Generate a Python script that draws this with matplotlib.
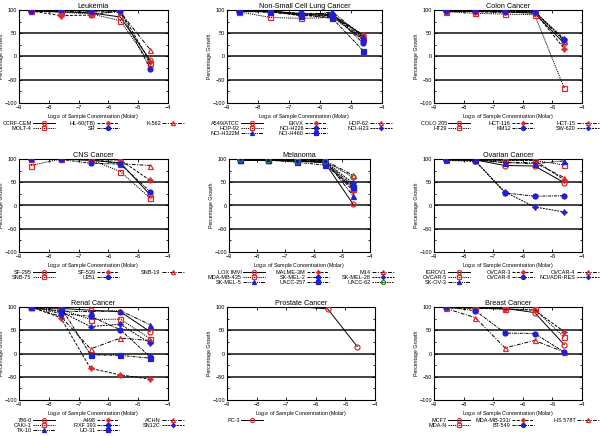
import matplotlib
matplotlib.use('Agg')
import matplotlib.pyplot as plt
from matplotlib.ticker import MultipleLocator

plt.rcParams['font.family'] = ['Liberation Sans', 'DejaVu Sans']
plt.rcParams['mathtext.fontset'] = 'custom'
plt.rcParams['mathtext.rm'] = 'Liberation Sans'

# log10 molar concentrations tested
conc = [-8.6, -7.6, -6.6, -5.6, -4.6]

leuk_names = ['CCRF-CEM', 'HL-60(TB)', 'K-562', 'MOLT-4', 'SR']
leuk_growth = [[98, 96, 94, 85, -8],
               [98, 88, 89, 99, -12],
               [98, 97, 96, 95, 15],
               [98, 95, 92, 77, -15],
               [98, 99, 98, 97, -26]]

nsclc_names = ['A549/ATCC', 'EKVX', 'HOP-62', 'HOP-92', 'NCI-H226', 'NCI-H23', 'NCI-H322M', 'NCI-H460']
nsclc_growth = [[98, 97, 92, 90, 45],
                [99, 96, 88, 86, 47],
                [97, 95, 90, 88, 40],
                [96, 84, 82, 84, 37],
                [98, 97, 93, 92, 28],
                [99, 98, 91, 87, 35],
                [100, 99, 87, 96, 42],
                [97, 96, 90, 82, 12]]

colon_names = ['COLO 205', 'HCT-116', 'HCT-15', 'HT29', 'KM12', 'SW-620']
colon_growth = [[98, 97, 96, 93, 28],
                [98, 96, 95, 95, 17],
                [97, 98, 97, 96, 33],
                [96, 93, 91, 90, -68],
                [99, 100, 98, 97, 35],
                [97, 98, 97, 96, 38]]

cns_names = ['SF-295', 'SF-539', 'SNB-19', 'SNB-75', 'U251']
cns_growth = [[100, 100, 97, 92, 23],
              [100, 100, 98, 98, 54],
              [100, 100, 99, 90, 86],
              [86, 100, 99, 73, 16],
              [100, 99, 91, 89, 30]]

mel_names = ['LOX IMVI', 'MALME-3M', 'M14', 'MDA-MB-435', 'SK-MEL-2', 'SK-MEL-28', 'SK-MEL-5', 'UACC-257', 'UACC-62']
mel_growth = [[97, 98, 96, 92, 3],
              [99, 97, 95, 93, 32],
              [98, 98, 97, 97, 65],
              [99, 97, 96, 94, 36],
              [98, 98, 97, 93, 43],
              [99, 98, 96, 95, 48],
              [98, 97, 96, 97, 21],
              [98, 98, 93, 87, 40],
              [99, 98, 96, 95, 61]]

ovar_names = ['IGROV1', 'OVCAR-3', 'OVCAR-4', 'OVCAR-5', 'OVCAR-8', 'NCI/ADR-RES', 'SK-OV-3']
ovar_growth = [[99, 98, 86, 85, 49],
               [99, 98, 97, 97, 55],
               [98, 98, 93, 92, 60],
               [99, 97, 97, 97, 87],
               [98, 96, 27, 20, 21],
               [97, 95, 29, -3, -14],
               [99, 98, 92, 90, 96]]

renal_names = ['786-0', 'A498', 'ACHN', 'CAKI-1', 'RXF 393', 'SN12C', 'TK-10', 'UO-31']
renal_growth = [[100, 97, 93, 90, 47],
                [100, 77, -32, -46, -55],
                [100, 80, 10, 33, 28],
                [100, 95, 73, 74, 32],
                [100, 86, 80, 51, -7],
                [100, 90, 58, 63, 22],
                [100, 91, 90, 92, 62],
                [100, 100, -3, -4, -10]]

prost_names = ['PC-3']
prost_growth = [[101, 101, 100.6, 96, 15]]

breast_names = ['MCF7', 'MDA-MB-231/', 'HS 578T', 'MDA-N', 'BT-549']
breast_growth = [[99, 98, 97, 88, 19],
                 [98, 97, 96, 93, 47],
                 [97, 77, 12, 28, 3],
                 [99, 98, 95, 95, 35],
                 [100, 92, 44, 43, 3]]

red = '#e3262b'
blue = '#1f1fd6'
green = '#1a8a1a'
# marker, colour, filled
mk = [('o', red, False), ((4, 1, 0), red, True), ('^', red, False), ('s', red, False),
      ('o', blue, True), ((4, 1, 0), blue, True), ('^', blue, True), ('s', blue, True),
      ('o', green, False)]
ls = ['-', (0, (3, 1.5)), (0, (4, 1.5, 1, 1.5)), (0, (1.2, 1)), (0, (3, 1, 1, 1)),
      (0, (2, 1)), (0, (4, 1, 1, 1, 1, 1)), (0, (3, 1, 1, 1)), (0, (1.5, 1))]

W, H = 600, 436
fig = plt.figure(figsize=(6, 4.36), dpi=100)

# title, names, values, (left, right, top, bottom) in pixels
panels = [
    ('Leukemia', leuk_names, leuk_growth, (19, 168, 10, 103)),
    ('Non-Small Cell Lung Cancer', nsclc_names, nsclc_growth, (227, 382, 10, 103)),
    ('Colon Cancer', colon_names, colon_growth, (434, 582, 10, 103)),
    ('CNS Cancer', cns_names, cns_growth, (19, 168, 159, 252)),
    ('Melanoma', mel_names, mel_growth, (229, 370, 159, 252)),
    ('Ovarian Cancer', ovar_names, ovar_growth, (434, 582, 159, 252)),
    ('Renal Cancer', renal_names, renal_growth, (19, 168, 307, 400)),
    ('Prostate Cancer', prost_names, prost_growth, (227, 375, 307, 400)),
    ('Breast Cancer', breast_names, breast_growth, (434, 582, 307, 400)),
]

for title, names, growth, (l, r, t, b) in panels:
    ax = fig.add_axes([l / W, 1 - b / H, (r - l) / W, (b - t) / H])
    for y in (50, 0, -50):
        ax.axhline(y, color='#333333', lw=1.3, zorder=1)
    handles = []
    for i, (name, vals) in enumerate(zip(names, growth)):
        m, c, filled = mk[i]
        # points above the plot range are not marked
        shown = [k for k, v in enumerate(vals) if v <= 100]
        h, = ax.plot(conc, vals, color='black', lw=0.7, ls=ls[i], marker=m,
                     markevery=shown,
                     markersize=4.2 if i in (1, 5) else 3.6,
                     markerfacecolor=c if filled else 'none',
                     markeredgecolor=c, markeredgewidth=0.9, label=name, zorder=3)
        handles.append(h)
    ax.set_xlim(-9, -4)
    ax.set_ylim(-100, 100)
    ax.set_yticks([-100, -50, 0, 50, 100])
    ax.yaxis.set_minor_locator(MultipleLocator(25))
    ax.tick_params(direction='in', top=True, right=True, labelsize=4, pad=1.5,
                   length=2.5, width=0.6)
    ax.tick_params(which='minor', direction='in', right=True, length=1.5, width=0.6)
    for sp in ax.spines.values():
        sp.set_linewidth(0.8)
    ax.set_title(title, fontsize=5.2, pad=1.5)
    ax.set_ylabel('Percentage Growth', fontsize=3.8)
    ax.yaxis.set_label_coords(-15.0 / (r - l), 0.5)
    ax.set_xlabel('Log$_{10}$ of Sample Concentration (Molar)', fontsize=3.8, labelpad=1.5)

    # legend in three right-aligned columns, filled row by row
    for col, off in enumerate((36, 100, 165)):
        hs = handles[col::3]
        if not hs:
            continue
        fig.legend(handles=hs, loc='upper right',
                   bbox_to_anchor=((l + off) / W, 1 - (b + 18) / H),
                   frameon=False, fontsize=4.0, markerfirst=False, markerscale=0.8,
                   handlelength=4.0, handletextpad=0.2, borderpad=0,
                   borderaxespad=0, labelspacing=0.0, numpoints=1)

fig.savefig('out.png', dpi=100)
